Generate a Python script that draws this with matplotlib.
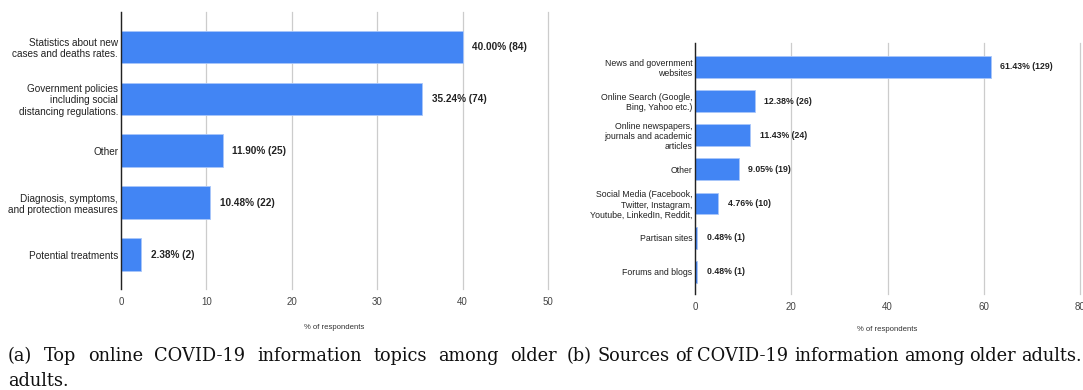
import matplotlib.pyplot as plt

plt.rcParams['font.family'] = ['Liberation Sans', 'DejaVu Sans']

topics = ['Statistics about new\ncases and deaths rates.',
          'Government policies\nincluding social\ndistancing regulations.',
          'Other',
          'Diagnosis, symptoms,\nand protection measures',
          'Potential treatments']
topic_pct = [40.00, 35.24, 11.90, 10.48, 2.38]
topic_n = [84, 74, 25, 22, 2]

sources = ['News and government\nwebsites',
           'Online Search (Google,\nBing, Yahoo etc.)',
           'Online newspapers,\njournals and academic\narticles',
           'Other',
           'Social Media (Facebook,\nTwitter, Instagram,\nYoutube, LinkedIn, Reddit,',
           'Partisan sites',
           'Forums and blogs']
source_pct = [61.43, 12.38, 11.43, 9.05, 4.76, 0.48, 0.48]
source_n = [129, 26, 24, 19, 10, 1, 1]

BLUE = '#4285f4'
W, H = 1083, 390


def px_axes(fig, left, top, right, bottom):
    return fig.add_axes([left / W, 1 - bottom / H, (right - left) / W, (bottom - top) / H])


def hbar(ax, labels, pct, n, xmax, ticks, height, lab_size, val_size, pad):
    y = list(range(len(labels)))
    ax.barh(y, pct, height=height, color=BLUE, edgecolor='#a9c6fa', linewidth=0.6, zorder=2)
    for yi, p, c in zip(y, pct, n):
        ax.annotate(f'{p:.2f}% ({c})', (p, yi), xytext=(pad, 0), textcoords='offset points',
                    va='center', ha='left', fontsize=val_size, fontweight='bold', color='#222222')
    ax.set_yticks(y)
    ax.set_yticklabels(labels, fontsize=lab_size, color='#222222', linespacing=1.15)
    ax.set_xlim(0, xmax)
    ax.set_xticks(ticks)
    ax.tick_params(axis='x', length=0, labelsize=7, labelcolor='#444444', pad=6)
    ax.tick_params(axis='y', length=0, pad=2)
    ax.grid(axis='x', color='#cccccc', linewidth=0.9, zorder=0)
    for g in ax.get_xgridlines():
        g.set_clip_on(False)
    for s in ['top', 'right', 'bottom']:
        ax.spines[s].set_visible(False)
    ax.spines['left'].set_color('#222222')
    ax.spines['left'].set_linewidth(1.0)
    ax.spines['left'].set_zorder(3)


fig = plt.figure(figsize=(W / 100, H / 100), dpi=100)

ax1 = px_axes(fig, 121, 12, 548, 289)
hbar(ax1, topics, topic_pct, topic_n, 50, [0, 10, 20, 30, 40, 50], 0.63, 7.2, 7.2, 7)
ax1.set_ylim(4.665, -0.675)
ax1.set_xlabel('% of respondents', fontsize=5.6, color='#333333', labelpad=12)

ax2 = px_axes(fig, 695, 43, 1080, 294)
hbar(ax2, sources, source_pct, source_n, 80, [0, 20, 40, 60, 80], 0.64, 6.3, 6.3, 7)
ax2.set_ylim(6.65, -0.70)
ax2.set_xlabel('% of respondents', fontsize=5.6, color='#333333', labelpad=10)


def justified(fig, text, x0, x1, y, size, justify=True):
    words = text.split(' ')
    r = fig.canvas.get_renderer()
    objs = [fig.text(0, y / H, w, fontsize=size, family='DejaVu Serif', va='baseline',
                     color='#111111', transform=fig.transFigure) for w in words]
    widths = [o.get_window_extent(renderer=r).width for o in objs]
    if justify and len(words) > 1:
        gap = ((x1 - x0) - sum(widths)) / (len(words) - 1)
    else:
        sp = fig.text(0, 0, 'a a', fontsize=size, family='DejaVu Serif')
        sp2 = fig.text(0, 0, 'aa', fontsize=size, family='DejaVu Serif')
        gap = sp.get_window_extent(renderer=r).width - sp2.get_window_extent(renderer=r).width
        sp.remove()
        sp2.remove()
    x = x0
    for o, w in zip(objs, widths):
        o.set_x(x / W)
        x += w + gap


justified(fig, '(a) Top online COVID-19 information topics among older', 8, 557, H - 361, 12.8)
justified(fig, 'adults.', 8, 557, H - 386, 12.8, justify=False)
justified(fig, '(b) Sources of COVID-19 information among older adults.', 567, 1082, H - 361, 12.8)

fig.savefig('out.png', dpi=100)
